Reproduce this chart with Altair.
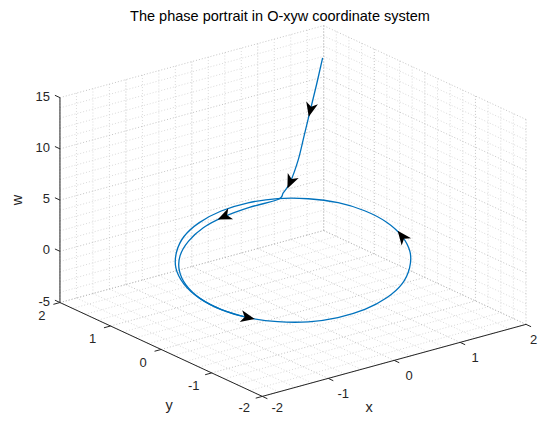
import math
import altair as alt
import numpy as np
import pandas as pd

# ---------------- data ----------------
TITLE = "The phase portrait in O-xyw coordinate system"
X_LIM = [-2, 2]
Y_LIM = [-2, 2]
W_LIM = [-5, 15]
X_TICKS = [-2, -1, 0, 1, 2]
Y_TICKS = [-2, -1, 0, 1, 2]
W_TICKS = [-5, 0, 5, 10, 15]
XY_MINOR = 0.25
W_MINOR = 1.0

# limit cycle (closed orbit)
CYCLE_X = [1.42, 1.37, 1.23, 1.00, 0.71, 0.37, 0.00, -0.37, -0.71, -1.00, -1.23, -1.37,
           -1.42, -1.37, -1.23, -1.00, -0.71, -0.37, 0.00, 0.37, 0.71, 1.00, 1.23, 1.37]
CYCLE_Y = [0.00, 0.37, 0.71, 1.00, 1.23, 1.37, 1.42, 1.37, 1.23, 1.00, 0.71, 0.37,
           0.00, -0.37, -0.71, -1.00, -1.23, -1.37, -1.42, -1.37, -1.23, -1.00, -0.71, -0.37]
CYCLE_W = [1.41, 1.77, 2.02, 2.15, 2.15, 2.01, 1.75, 1.38, 0.94, 0.44, -0.07, -0.57,
           -1.01, -1.37, -1.62, -1.75, -1.75, -1.61, -1.35, -0.98, -0.54, -0.04, 0.47, 0.97]

# transient trajectory coming down from high w onto the cycle
TRANS_X = [1.37, 1.28, 1.185, 1.09, 1.00, 0.88, 0.79, 0.70, 0.355, 0.00, -0.352, -0.68,
           -0.969, -1.195, -1.347, -1.41, -1.37, -1.23]
TRANS_Y = [1.20, 1.20, 1.20, 1.20, 1.20, 1.20, 1.22, 1.21, 1.323, 1.36, 1.314, 1.178,
           0.969, 0.69, 0.361, 0.00, -0.37, -0.71]
TRANS_W = [14.8, 12.4, 10.05, 7.7, 5.48, 3.54, 2.6, 2.12, 1.70, 1.335, 0.98, 0.56,
           0.13, -0.28, -0.676, -1.05, -1.37, -1.62]

# direction arrows: (curve, vertex index)
ARROWS = [("t", 2), ("t", 5), ("t", 9), ("c", 14), ("c", 23)]

# ---------------- view / projection (MATLAB default 3-D view) ----------------
AZ, EL = -37.5, 30.0
CENTER = (293.0, 211.0)       # page pixels of the box centre
SCALE_H, SCALE_V = 166.2, 118.3
PAGE_W, PAGE_H, MARGIN = 546, 423, 8


def project(x, y, w):
    X = (np.asarray(x, float) - sum(X_LIM) / 2) / ((X_LIM[1] - X_LIM[0]) / 2)
    Y = (np.asarray(y, float) - sum(Y_LIM) / 2) / ((Y_LIM[1] - Y_LIM[0]) / 2)
    Z = (np.asarray(w, float) - sum(W_LIM) / 2) / ((W_LIM[1] - W_LIM[0]) / 2)
    a, e = math.radians(AZ), math.radians(EL)
    h = math.cos(a) * X + math.sin(a) * Y
    v = -math.sin(e) * math.sin(a) * X + math.sin(e) * math.cos(a) * Y + math.cos(e) * Z
    return CENTER[0] + SCALE_H * h, CENTER[1] - SCALE_V * v


def seg_df(segs, kind):
    rows = []
    for (p, q) in segs:
        x1, y1 = project(*p)
        x2, y2 = project(*q)
        rows.append({"px": float(x1), "py": float(y1), "px2": float(x2), "py2": float(y2), "kind": kind})
    return pd.DataFrame(rows)


xmin, xmax = X_LIM
ymin, ymax = Y_LIM
wmin, wmax = W_LIM
xy_vals = np.round(np.arange(xmin, xmax + 1e-9, XY_MINOR), 6)
w_vals = np.round(np.arange(wmin, wmax + 1e-9, W_MINOR), 6)


def grid_segments(xs, ys, ws):
    segs = []
    for xv in xs:   # floor and back wall y = ymax
        segs.append(((xv, ymin, wmin), (xv, ymax, wmin)))
        segs.append(((xv, ymax, wmin), (xv, ymax, wmax)))
    for yv in ys:   # floor and back wall x = xmax
        segs.append(((xmin, yv, wmin), (xmax, yv, wmin)))
        segs.append(((xmax, yv, wmin), (xmax, yv, wmax)))
    for wv in ws:
        segs.append(((xmax, ymin, wv), (xmax, ymax, wv)))
        segs.append(((xmin, ymax, wv), (xmax, ymax, wv)))
    return segs


minor_df = seg_df(grid_segments([v for v in xy_vals if v not in X_TICKS],
                                [v for v in xy_vals if v not in Y_TICKS],
                                [v for v in w_vals if v not in W_TICKS]), "minor")
major_df = seg_df(grid_segments(X_TICKS, Y_TICKS, W_TICKS), "major")

axis_df = seg_df([
    ((xmin, ymax, wmin), (xmin, ymax, wmax)),   # w axis
    ((xmin, ymin, wmin), (xmin, ymax, wmin)),   # y axis
    ((xmin, ymin, wmin), (xmax, ymin, wmin)),   # x axis
], "axis")

TICK_LEN = 0.1
tick_df = seg_df(
    [((t, ymin, wmin), (t, ymin - TICK_LEN * (ymax - ymin) / 4, wmin)) for t in X_TICKS]
    + [((xmin, t, wmin), (xmin - TICK_LEN * (xmax - xmin) / 4, t, wmin)) for t in Y_TICKS]
    + [((xmin, ymax, t), (xmin, ymax + TICK_LEN * (ymax - ymin) / 4, t)) for t in W_TICKS],
    "tick")

# ---------------- chart frame ----------------
W, H = PAGE_W - 2 * MARGIN, PAGE_H - 2 * MARGIN
RIGHT_EDGE, BOTTOM_EDGE = MARGIN + W, MARGIN + H


def pts_df(xs, ys, ws, labels=None, off=(0.0, 0.0), half=(0.0, 0.0)):
    px, py = project(xs, ys, ws)
    px = np.minimum(np.asarray(px) + off[0], RIGHT_EDGE - half[0])
    py = np.minimum(np.asarray(py) + off[1], BOTTOM_EDGE - half[1])
    d = pd.DataFrame({"px": px, "py": py, "i": np.arange(len(px))})
    if labels is not None:
        d["label"] = labels
    return d


xlab_df = pts_df(X_TICKS, [ymin] * len(X_TICKS), [wmin] * len(X_TICKS),
                 [str(t) for t in X_TICKS], off=(15, 15.5), half=(4.5, 7))
ylab_df = pts_df([xmin] * len(Y_TICKS), Y_TICKS, [wmin] * len(Y_TICKS),
                 [str(t) for t in Y_TICKS], off=(-18, 13.5), half=(0, 7))
wlab_df = pts_df([xmin] * len(W_TICKS), [ymax] * len(W_TICKS), W_TICKS,
                 [str(t) for t in W_TICKS], off=(-10, -1))

xtitle_df = pts_df([0], [ymin], [wmin], ["x"], off=(-25, 53), half=(0, 7))
ytitle_df = pts_df([xmin], [0], [wmin], ["y"], off=(8, 61), half=(0, 9))
wtitle_df = pts_df([xmin], [ymax], [(wmin + wmax) / 2], ["w"], off=(-42, 0))

cycle_df = pts_df(CYCLE_X, CYCLE_Y, CYCLE_W)
trans_df = pts_df(TRANS_X, TRANS_Y, TRANS_W)

arrow_rows = []
for which, k in ARROWS:
    d = cycle_df if which == "c" else trans_df
    n = len(d)
    if which == "c":
        a, b = d.iloc[(k - 1) % n], d.iloc[(k + 1) % n]
    else:
        a, b = d.iloc[max(k - 1, 0)], d.iloc[min(k + 1, n - 1)]
    ang = math.degrees(math.atan2(b.py - a.py, b.px - a.px)) % 360
    arrow_rows.append({"px": d.iloc[k].px, "py": d.iloc[k].py, "angle": ang})
arrow_df = pd.DataFrame(arrow_rows)

XS = alt.Scale(domain=[MARGIN, RIGHT_EDGE], nice=False, zero=False)
YS = alt.Scale(domain=[MARGIN, BOTTOM_EDGE], nice=False, zero=False, reverse=True)
FONT = "Liberation Sans"
INK = "#262626"


def xy():
    return dict(x=alt.X("px:Q", scale=XS, axis=None), y=alt.Y("py:Q", scale=YS, axis=None))


def rules(df, **kw):
    return alt.Chart(df).mark_rule(**kw).encode(x2="px2:Q", y2="py2:Q", **xy())


minor_layer = rules(minor_df, color="#d0d0d0", strokeWidth=0.8, strokeDash=[1, 2])
major_layer = rules(major_df, color="#b5b5b5", strokeWidth=0.8, strokeDash=[1, 2])
axis_layer = rules(axis_df, color=INK, strokeWidth=1)
tick_layer = rules(tick_df, color=INK, strokeWidth=1)


def labels(df, **kw):
    base = dict(font=FONT, fontSize=13, color=INK, baseline="middle")
    base.update(kw)
    return alt.Chart(df).mark_text(**base).encode(text="label:N", **xy())


xlab = labels(xlab_df, align="center")
ylab = labels(ylab_df, align="center")
wlab = labels(wlab_df, align="right")
xtitle = labels(xtitle_df, fontSize=14.5, align="center")
ytitle = labels(ytitle_df, fontSize=14.5, align="center")
wtitle = labels(wtitle_df, fontSize=14.5, align="center", angle=270)

cycle_layer = alt.Chart(cycle_df).mark_line(
    color="#0072BD", strokeWidth=1.3, interpolate="cardinal-closed", tension=0
).encode(order="i:Q", **xy())
trans_layer = alt.Chart(trans_df).mark_line(
    color="#0072BD", strokeWidth=1.3, interpolate="cardinal", tension=0
).encode(order="i:Q", **xy())

ARROW_PATH = "M1,0 L-1,-0.85 L-0.45,0 L-1,0.85 Z"
arrow_layer = alt.Chart(arrow_df).mark_point(
    shape=ARROW_PATH, filled=True, color="black", size=200, opacity=1, strokeWidth=0
).encode(angle=alt.Angle("angle:Q", scale=None), **xy())

title_layer = alt.Chart(pd.DataFrame({"label": [TITLE]})).mark_text(
    font=FONT, fontSize=14.5, color="#000000", align="center", baseline="middle"
).encode(text="label:N", x=alt.value(272), y=alt.value(8.5))

chart = alt.layer(
    minor_layer, major_layer, axis_layer, tick_layer,
    xlab, ylab, wlab, xtitle, ytitle, wtitle,
    cycle_layer, trans_layer, arrow_layer, title_layer,
).properties(
    width=W, height=H, padding=0,
    autosize=alt.AutoSizeParams(type="none"),
).configure_view(stroke=None)

chart.save("out.html", embed_options={"renderer": "svg", "actions": False})
